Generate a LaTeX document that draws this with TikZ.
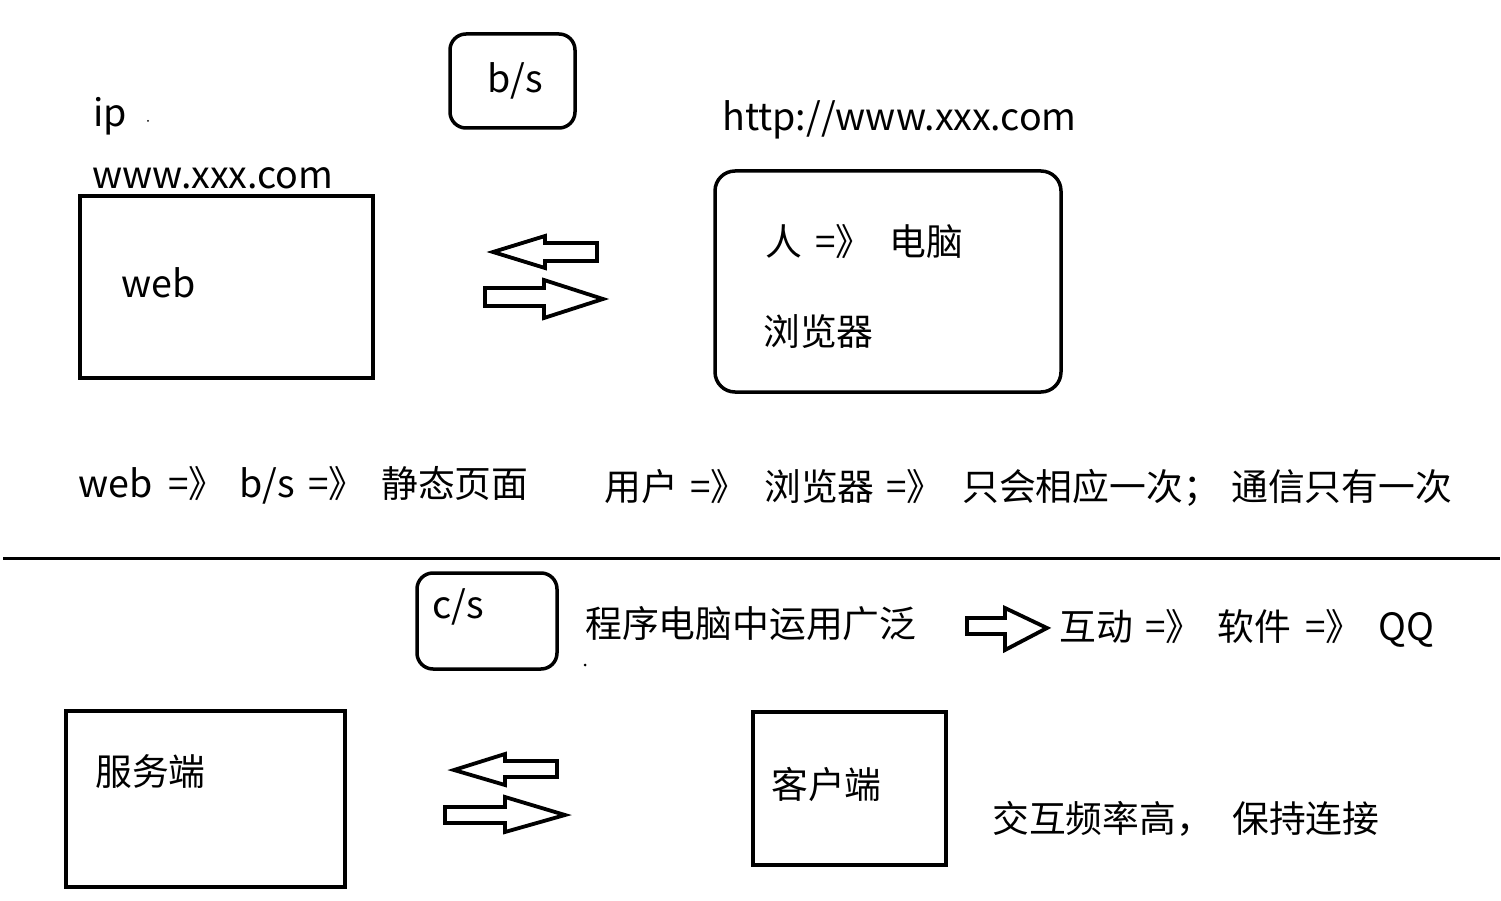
\documentclass[tikz,border=0pt]{standalone}
\usepackage{fontspec}
\newfontfamily\cjk{Noto Sans CJK SC}
\tikzset{
  box/.style={draw=black, line width=3.5pt},
  rbox/.style={draw=black, line width=3.5pt, rounded corners=16pt},
  txt/.style={anchor=base west, inner sep=0pt, font=\cjk\fontsize{36.8}{40}\selectfont},
  lat/.style={anchor=base west, inner sep=0pt, font=\cjk\fontsize{37.6}{40}\selectfont},
  bigarrow/.style={draw=black, line width=3.8pt, line join=miter},
}
\begin{document}
\begin{tikzpicture}[x=1pt,y=-1pt]
\path[use as bounding box, fill=white] (0,0) rectangle (1501,901);

% top section boxes
\draw[box] (80,196) rectangle (373,378);
\draw[rbox] (450,34) rectangle (575,128);
\draw[rbox, rounded corners=20pt] (715,171) rectangle (1061,392);

% top texts
\node[lat] (ip) at (93,127) {ip};
\fill (148,121) circle (1pt);
\node[lat] (www) at (92,189) {www.xxx.com};
\node[lat] (bs) at (487,93) {b/s};
\node[lat] (http) at (722,131) {http://www.xxx.com};
\node[lat] (web) at (121,298) {web};
\node[txt] (ren) at (765,256) {人};
\node[txt] (ren2) at (815,256) {=》};
\node[txt] (ren3) at (889,256) {电脑};
\node[txt] (llq) at (763,345) {浏览器};

% top arrows
\draw[bigarrow] (493,252) -- (545,236) -- (545,243) -- (597,243) -- (597,261) -- (545,261) -- (545,268) -- cycle;
\draw[bigarrow] (603,299) -- (544,280) -- (544,288) -- (485,288) -- (485,306) -- (544,306) -- (544,318) -- cycle;

% middle texts
\node[lat] (a1) at (78,497) {web};
\node[txt] (a2) at (168,497) {=》};
\node[lat] (a3) at (239,497) {b/s};
\node[txt] (a4) at (308,497) {=》};
\node[txt] (a5) at (381,497) {静态页面};

\node[txt] (b1) at (604,500) {用户};
\node[txt] (b2) at (690,500) {=》};
\node[txt] (b3) at (764,500) {浏览器};
\node[txt] (b4) at (886,500) {=》};
\node[txt] (b5) at (962,500) {只会相应一次；};
\node[txt] (b6) at (1231,500) {通信只有一次};

% divider
\draw[line width=3pt] (3,558) -- (1500,558);

% bottom section
\draw[rbox] (417,573) rectangle (557,669);
\node[lat] (cs) at (432,618) {c/s};
\node[txt] (cx) at (585,637) {程序电脑中运用广泛};
\fill (585,665) circle (1.5pt);
\draw[bigarrow] (1047,628) -- (1005,608) -- (1005,618) -- (967,618) -- (967,634) -- (1005,634) -- (1005,650) -- cycle;
\node[txt] (h1) at (1059,640) {互动};
\node[txt] (h2) at (1145,640) {=》};
\node[txt] (h3) at (1217,640) {软件};
\node[txt] (h4) at (1305,640) {=》};
\node[lat] (h5) at (1378,640) {QQ};

\draw[box] (66,711) rectangle (345,887);
\node[txt] (fwd) at (95,785) {服务端};
\draw[bigarrow] (454,770) -- (505,754) -- (505,761) -- (557,761) -- (557,777) -- (505,777) -- (505,785) -- cycle;
\draw[bigarrow] (565,815) -- (505,797) -- (505,807) -- (445,807) -- (445,823) -- (505,823) -- (505,832) -- cycle;

\draw[box] (753,712) rectangle (946,865);
\node[txt] (khd) at (771,798) {客户端};
\node[txt] (j1) at (992,832) {交互频率高，};
\node[txt] (j2) at (1232,832) {保持连接};
\end{tikzpicture}
\end{document}
